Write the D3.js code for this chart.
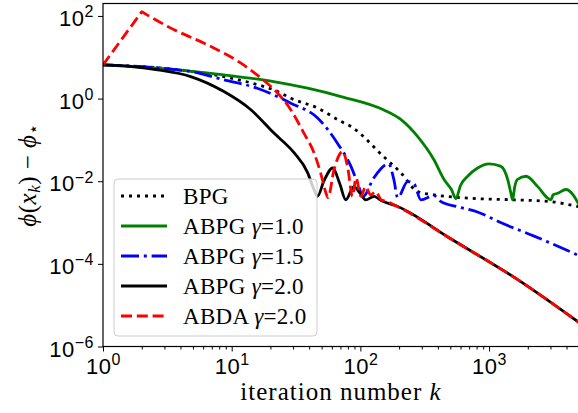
<!DOCTYPE html>
<html>
<head>
<meta charset="utf-8">
<script src="https://cdn.jsdelivr.net/npm/d3@7"></script>
<style>
body { margin: 0; background: #fff; }
svg { display: block; }
</style>
</head>
<body>
<div id="chart"></div>
<script>
"use strict";

// phi(x_k) - phi_star against iteration number k
var bpgK   = [1, 4.83, 8.7, 14.1, 22.8, 28.8, 46.5, 70.8, 84.5, 151, 207, 279, 373, 682, 1550, 3025, 5000];
var bpgVal = [6.55, 4.57, 3.39, 2.4, 1.48, 1.02, 0.589, 0.279, 0.211, 0.0398, 0.0158, 0.0056, 0.0047, 0.0039, 0.00355, 0.0032, 0.0024];

var abpg10K   = [1, 2.66, 8.7, 21.2, 38.9, 70.8, 151, 207, 279, 373, 447, 510, 553, 600, 682, 815, 1000, 1238, 1396, 1480, 1525, 1580, 1660, 1936, 2390, 2860, 3025, 3150, 3410, 3960, 4500, 5000];
var abpg10Val = [6.55, 5.45, 3.75, 2.57, 1.78, 1.12, 0.537, 0.309, 0.12, 0.0331, 0.011, 0.0063, 0.0038, 0.0079, 0.0132, 0.0209, 0.0263, 0.0229, 0.011, 0.0051, 0.00355, 0.0071, 0.011, 0.0132, 0.0074, 0.0039, 0.00355, 0.0047, 0.0051, 0.0063, 0.0047, 0.0027];

var abpg15K   = [1, 4.83, 8.7, 15.8, 28.8, 46.5, 66.7, 84.5, 95.5, 105, 127, 166, 182, 195, 233, 261, 295, 373, 423, 570, 813, 1230, 2240, 5000];
var abpg15Val = [6.55, 4.5, 2.84, 1.78, 0.776, 0.339, 0.081, 0.0229, 0.0087, 0.0043, 0.012, 0.0263, 0.011, 0.004, 0.0098, 0.0087, 0.00355, 0.0045, 0.0032, 0.0024, 0.0018, 0.001, 0.00047, 0.000158];

var abpg20K   = [1, 1.6, 2.66, 4.8, 8.7, 14.1, 21.2, 30.5, 38.9, 43.6, 46.5, 52, 61, 69, 77, 89, 100, 110, 128, 145, 195, 500, 1660, 5000];
var abpg20Val = [6.55, 6.03, 4.95, 3.41, 1.48, 0.537, 0.148, 0.049, 0.0162, 0.0063, 0.0043, 0.01, 0.0209, 0.0089, 0.00355, 0.0074, 0.005, 0.00355, 0.0043, 0.0034, 0.00245, 0.00041, 4.2e-5, 3.8e-6];

var abdaK   = [1, 2, 3.4, 6.9, 11.8, 16.9, 22.8, 28.8, 36.3, 43.6, 49, 54, 56, 62.4, 72.8, 79.4, 87, 92.5, 101, 110, 120, 132, 145, 162, 182, 219, 500, 1660, 5000];
var abdaVal = [6.55, 126, 50, 18.2, 7.2, 3.12, 1.35, 0.537, 0.148, 0.049, 0.0162, 0.0052, 0.004, 0.019, 0.052, 0.023, 0.0043, 0.012, 0.0043, 0.0074, 0.0047, 0.0056, 0.00355, 0.0032, 0.0027, 0.002, 0.00041, 4.2e-5, 3.8e-6];

var legendNames  = ["BPG", "ABPG", "ABPG", "ABPG", "ABDA"];
var legendGammas = [null, "1.0", "1.5", "2.0", "2.0"];

var xTicks = [1, 10, 100, 1000];
var yTicks = [1e-6, 1e-4, 1e-2, 1, 100];

var W = 578, H = 413;
var serif = "'Liberation Serif', 'DejaVu Serif', serif";

var series = [
  {k: bpgK,    v: bpgVal,    color: "#000000", dash: "3,5"},
  {k: abpg10K, v: abpg10Val, color: "#008000", dash: null},
  {k: abpg15K, v: abpg15Val, color: "#0000ff", dash: "18,4.8,3,4.8"},
  {k: abpg20K, v: abpg20Val, color: "#000000", dash: null},
  {k: abdaK,   v: abdaVal,   color: "#ff0000", dash: "11,4.8", sharpStart: true}
];

var x = d3.scaleLog().domain([1, 5000]).range([103, 579]);
var y = d3.scaleLog().domain([1e-6, 200]).range([346.5, 3.5]);

var svg = d3.select("#chart").append("svg")
  .attr("width", W)
  .attr("height", H)
  .attr("font-family", serif);

svg.append("clipPath").attr("id", "plotclip")
  .append("rect")
    .attr("x", x.range()[0])
    .attr("y", y.range()[1])
    .attr("width", x.range()[1] - x.range()[0])
    .attr("height", y.range()[0] - y.range()[1]);

var line = d3.line()
  .x(function(d) { return x(d[0]); })
  .y(function(d) { return y(d[1]); })
  .curve(d3.curveMonotoneX);

function pathFor(s) {
  var pts = d3.zip(s.k, s.v);
  if (!s.sharpStart) {
    return line(pts);
  }
  // first step drawn straight so the spike at k=2 keeps its corner
  var rest = line(pts.slice(1));
  return "M" + x(pts[0][0]) + "," + y(pts[0][1]) + "L" + rest.slice(1);
}

var lines = svg.append("g").attr("clip-path", "url(#plotclip)");
series.forEach(function(s) {
  lines.append("path")
    .attr("d", pathFor(s))
    .attr("fill", "none")
    .attr("stroke", s.color)
    .attr("stroke-width", 2.8)
    .attr("stroke-dasharray", s.dash)
    .attr("stroke-linejoin", "round");
});

// axes
function expLabel(sel, d) {
  var e = Math.round(Math.log10(d));
  sel.append("tspan").text("10");
  sel.append("tspan")
    .attr("font-size", "16px")
    .attr("dy", -8.5)
    .text(e < 0 ? "\u2212" + (-e) : String(e));
}

var xAxis = svg.append("g")
  .attr("transform", "translate(0," + y.range()[0] + ")")
  .call(d3.axisBottom(x).tickValues(xTicks).tickSize(5).tickFormat(""));
var minorX = [];
xTicks.forEach(function(t) {
  for (var m = 2; m <= 9; m++) {
    if (t * m <= 5000) minorX.push(t * m);
  }
});
svg.append("g")
  .attr("transform", "translate(0," + y.range()[0] + ")")
  .call(d3.axisBottom(x).tickValues(minorX).tickSize(3).tickFormat(""))
  .call(function(gr) { gr.select(".domain").remove(); });
xAxis.select(".domain").remove();
xAxis.selectAll(".tick").each(function(d) {
  var t = d3.select(this).append("text")
    .attr("y", 27)
    .attr("fill", "#000")
    .attr("font-size", "22px")
    .attr("letter-spacing", "0.5px")
    .attr("text-anchor", "middle");
  expLabel(t, d);
});

var yAxis = svg.append("g")
  .attr("transform", "translate(" + x.range()[0] + ",0)")
  .call(d3.axisLeft(y).tickValues(yTicks).tickSize(5).tickFormat(""));
yAxis.select(".domain").remove();
yAxis.selectAll(".tick").each(function(d) {
  var t = d3.select(this).append("text")
    .attr("x", -9)
    .attr("y", 9.5)
    .attr("fill", "#000")
    .attr("font-size", "22px")
    .attr("letter-spacing", "0.5px")
    .attr("text-anchor", "end");
  expLabel(t, d);
});

svg.selectAll(".tick line").attr("stroke", "#000").attr("stroke-width", 1);

// spines
svg.append("rect")
  .attr("x", x.range()[0])
  .attr("y", y.range()[1])
  .attr("width", x.range()[1] - x.range()[0])
  .attr("height", y.range()[0] - y.range()[1])
  .attr("fill", "none")
  .attr("stroke", "#000")
  .attr("stroke-width", 1.2);

// axis labels
var xl = svg.append("text")
  .attr("x", (x.range()[0] + x.range()[1]) / 2)
  .attr("y", 400)
  .attr("text-anchor", "middle")
  .attr("font-size", "25px")
  .attr("letter-spacing", "1px");
xl.append("tspan").text("iteration number ");
xl.append("tspan").attr("font-style", "italic").text("k");

var yl = svg.append("text")
  .attr("transform", "translate(36," + (y.range()[0] + y.range()[1]) / 2 + ") rotate(-90)")
  .attr("text-anchor", "middle")
  .attr("font-size", "25px")
  .attr("letter-spacing", "0.5px");
yl.append("tspan").attr("font-style", "italic").text("\u03d5");
yl.append("tspan").text("(");
yl.append("tspan").attr("font-style", "italic").text("x");
yl.append("tspan").attr("font-style", "italic").attr("font-size", "17px").attr("dy", 4).text("k");
yl.append("tspan").attr("dy", -4).text(")");
yl.append("tspan").text(" \u2212 ");
yl.append("tspan").attr("font-style", "italic").text("\u03d5");
yl.append("tspan").attr("font-family", "'DejaVu Sans', sans-serif").attr("font-size", "17px").attr("dy", 3).text("\u22c6");

// legend
var leg = svg.append("g");
leg.append("rect")
  .attr("x", 114)
  .attr("y", 179)
  .attr("width", 203)
  .attr("height", 157)
  .attr("rx", 4)
  .attr("fill", "#fff")
  .attr("fill-opacity", 0.8)
  .attr("stroke", "#cccccc")
  .attr("stroke-width", 1);

series.forEach(function(s, i) {
  var cy = 196 + i * 30;
  leg.append("line")
    .attr("x1", 121).attr("x2", 167)
    .attr("y1", cy).attr("y2", cy)
    .attr("stroke", s.color)
    .attr("stroke-width", 2.8)
    .attr("stroke-dasharray", s.dash);
  var t = leg.append("text")
    .attr("x", 183)
    .attr("y", cy + 7.5)
    .attr("font-size", "23px")
    .attr("letter-spacing", "0.3px");
  t.append("tspan").text(legendNames[i]);
  if (legendGammas[i]) {
    t.append("tspan").text(" ");
    t.append("tspan").attr("font-style", "italic").text("\u03b3");
    t.append("tspan").text("=" + legendGammas[i]);
  }
});
</script>
</body>
</html>
